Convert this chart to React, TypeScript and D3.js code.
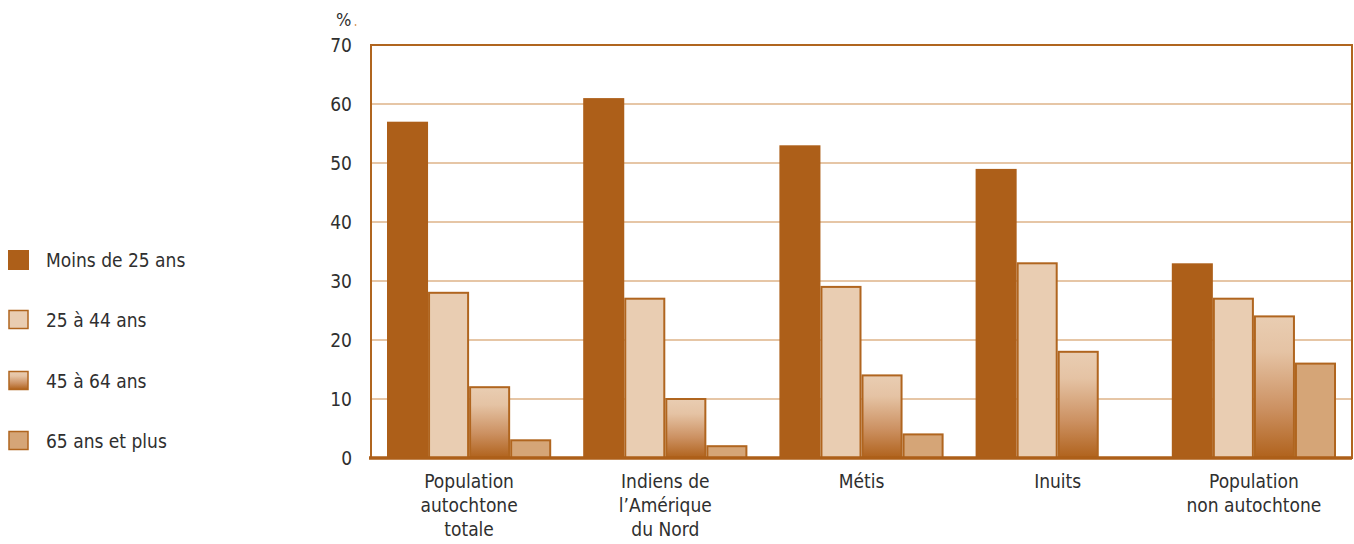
import React from "react";
import * as d3 from "d3";

// Share of population by age group (%)
const categories: string[][] = [
  ["Population", "autochtone", "totale"],
  ["Indiens de", "l’Amérique", "du Nord"],
  ["Métis"],
  ["Inuits"],
  ["Population", "non autochtone"],
];
const seriesNames = ["Moins de 25 ans", "25 à 44 ans", "45 à 64 ans", "65 ans et plus"];
const moins25 = [57, 61, 53, 49, 33];
const de25a44 = [28, 27, 29, 33, 27];
const de45a64 = [12, 10, 14, 18, 24];
const plus65: (number | null)[] = [3, 2, 4, null, 16];
const yTicks = [0, 10, 20, 30, 40, 50, 60, 70];

const series = [moins25, de25a44, de45a64, plus65];

const W = 1354;
const H = 544;
const plot = { left: 371, right: 1352, top: 45, bottom: 458 };

const DARK = "#ad5f19";
const EDGE = "#b0651f";
const LIGHT = "#e9cdb2";
const MID = "#d5a577";
const GRID = "#e6c6a6";
const TEXT = "#2f2f2f";
const FONT = "'Liberation Sans Narrow', 'DejaVu Sans Condensed', 'Roboto', sans-serif";

const fills = [DARK, LIGHT, "url(#gradAge)", MID];

export default function App() {
  const x0 = d3
    .scaleBand<number>()
    .domain(d3.range(categories.length))
    .range([plot.left, plot.right])
    .paddingInner(0)
    .paddingOuter(0);
  const innerPad = 16;
  const x1 = d3
    .scaleBand<number>()
    .domain(d3.range(series.length))
    .range([innerPad, x0.bandwidth() - innerPad]);
  const y = d3.scaleLinear().domain([0, 70]).range([plot.bottom, plot.top]);

  const legendY = [260, 320, 381, 441];

  return (
    <svg
      width={W}
      height={H}
      style={{ position: "absolute", left: 0, top: 0, background: "#fff" }}
      fontFamily={FONT}
    >
      <defs>
        <linearGradient id="gradAge" x1="0" y1="0" x2="0" y2="1">
          <stop offset="0" stopColor={LIGHT} />
          <stop offset="0.25" stopColor="#e5c3a4" />
          <stop offset="0.65" stopColor="#cc9162" />
          <stop offset="1" stopColor="#b0621c" />
        </linearGradient>
      </defs>

      {/* horizontal grid */}
      {yTicks
        .filter((t) => t > 0 && t < 70)
        .map((t) => (
          <line
            key={t}
            x1={plot.left}
            x2={plot.right}
            y1={y(t)}
            y2={y(t)}
            stroke={GRID}
            strokeWidth={2}
          />
        ))}

      {/* frame */}
      <rect
        x={plot.left}
        y={plot.top}
        width={plot.right - plot.left}
        height={plot.bottom - plot.top}
        fill="none"
        stroke={EDGE}
        strokeWidth={2}
      />

      {/* bars */}
      {categories.map((_, ci) => (
        <g key={ci} transform={`translate(${x0(ci)},0)`}>
          {series.map((s, si) => {
            const v = s[ci];
            if (v == null) return null;
            const top = y(v);
            return (
              <rect
                key={si}
                x={(x1(si) as number) + (si === 0 ? 0 : 1)}
                y={top}
                width={x1.bandwidth() - (si === 0 ? 0 : 2)}
                height={plot.bottom - top}
                fill={fills[si]}
                stroke={si === 0 ? "none" : EDGE}
                strokeWidth={2}
              />
            );
          })}
        </g>
      ))}

      {/* baseline */}
      <line
        x1={plot.left - 2}
        x2={plot.right}
        y1={plot.bottom}
        y2={plot.bottom}
        stroke={DARK}
        strokeWidth={3.5}
      />

      {/* y tick labels */}
      {yTicks.map((t) => (
        <text
          key={t}
          x={352}
          y={y(t)}
          dy="0.36em"
          textAnchor="end"
          fontSize={19}
          fill={TEXT}
        >
          {t}
        </text>
      ))}
      <text x={336} y={26} fontSize={18} fill={TEXT}>
        %
      </text>
      <circle cx={355.5} cy={25} r={0.9} fill="#d9985a" />

      {/* category labels */}
      {categories.map((lines, ci) => {
        const cx = (x0(ci) as number) + x0.bandwidth() / 2;
        return (
          <text key={ci} textAnchor="middle" fontSize={19} fill={TEXT}>
            {lines.map((ln, li) => (
              <tspan key={li} x={cx} y={488 + li * 24}>
                {ln}
              </tspan>
            ))}
          </text>
        );
      })}

      {/* legend */}
      {seriesNames.map((name, i) => (
        <g key={name}>
          <rect
            x={9}
            y={legendY[i] - 9.5}
            width={19}
            height={18}
            fill={fills[i]}
            stroke={i === 0 ? "none" : EDGE}
            strokeWidth={i === 0 ? 0 : 1.5}
          />
          {i === 0 && (
            <rect x={8} y={legendY[i] - 10} width={21} height={20} fill={DARK} />
          )}
          <text x={46} y={legendY[i]} dy="0.36em" fontSize={19} fill={TEXT}>
            {name}
          </text>
        </g>
      ))}
    </svg>
  );
}
